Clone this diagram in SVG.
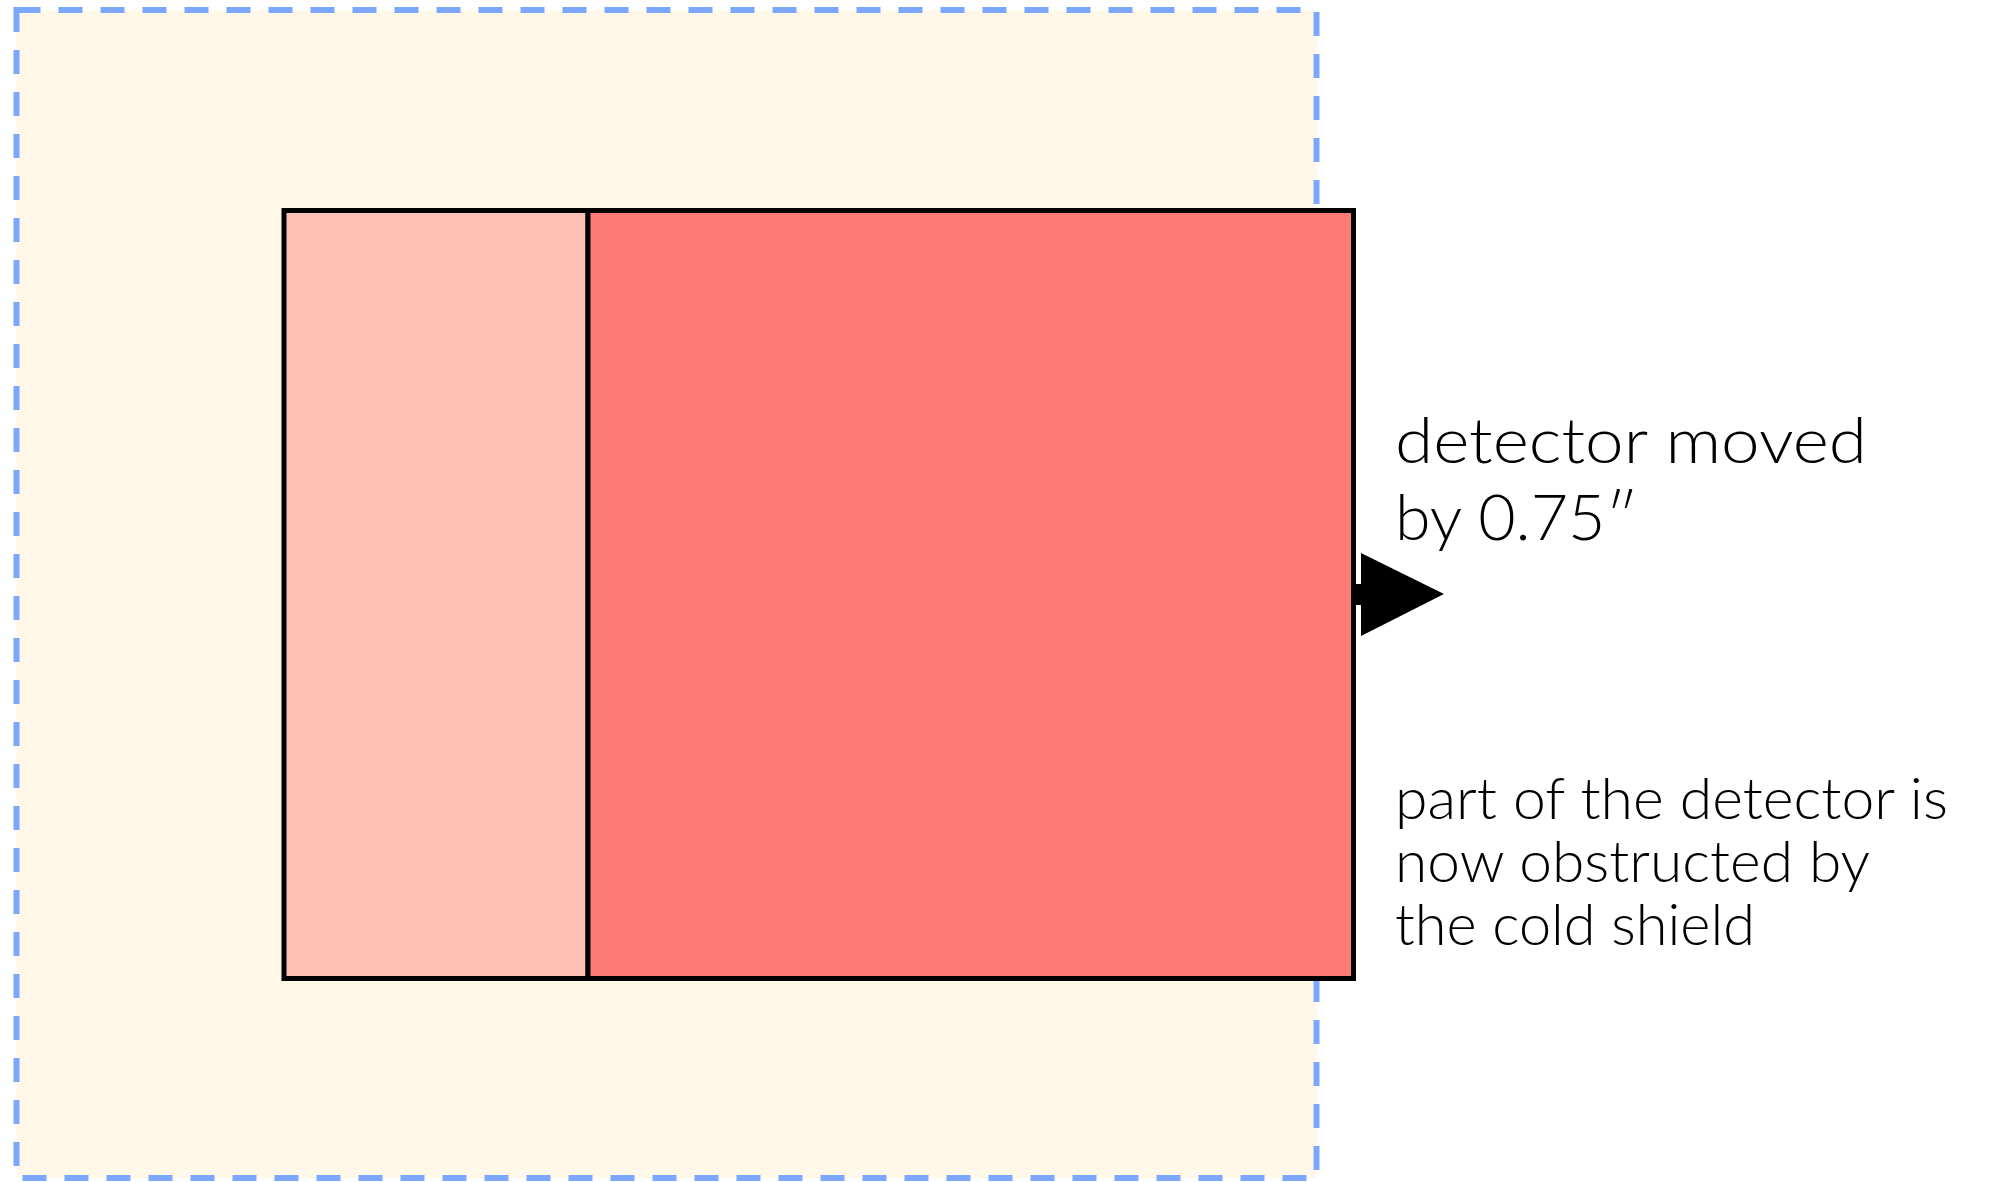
<svg xmlns="http://www.w3.org/2000/svg" width="1990" height="1182" viewBox="0 0 1990 1182">
<style>
.lbl{font-family:Lato,"Open Sans","Liberation Sans",sans-serif;font-weight:300;fill:#000}
.box{stroke:#000;stroke-width:5}
</style>
<rect width="1990" height="1182" fill="#fff"/>
<g id="cold-shield">
<rect x="16.5" y="10" width="1300" height="1168" fill="#FFF7E8" stroke="#7BA7FF" stroke-width="6" stroke-dasharray="24 18"/>
</g>
<g id="detector">
<rect class="box" x="284" y="210.5" width="304" height="768" fill="#FFC0B5"/>
<rect class="box" x="588" y="210.5" width="765.5" height="768" fill="#FF7C76"/>
</g>
<g id="connectors">
<rect x="1353" y="584" width="9" height="21" fill="#000"/>
<polygon points="1361,553 1444,594 1361,636" fill="#000"/>
</g>
<g id="label-moved">
<text class="lbl" font-size="64" x="1395" y="463" textLength="472" lengthAdjust="spacingAndGlyphs">detector moved</text>
<text class="lbl" font-size="64" x="1395" y="540" textLength="243" lengthAdjust="spacingAndGlyphs">by 0.75″</text>
</g>
<g id="label-obstructed">
<text class="lbl" font-size="57" x="1395" y="819" textLength="553" lengthAdjust="spacingAndGlyphs">part of the detector is</text>
<text class="lbl" font-size="57" x="1395" y="882" textLength="475" lengthAdjust="spacingAndGlyphs">now obstructed by</text>
<text class="lbl" font-size="57" x="1395" y="945" textLength="360" lengthAdjust="spacingAndGlyphs">the cold shield</text>
</g>
</svg>
